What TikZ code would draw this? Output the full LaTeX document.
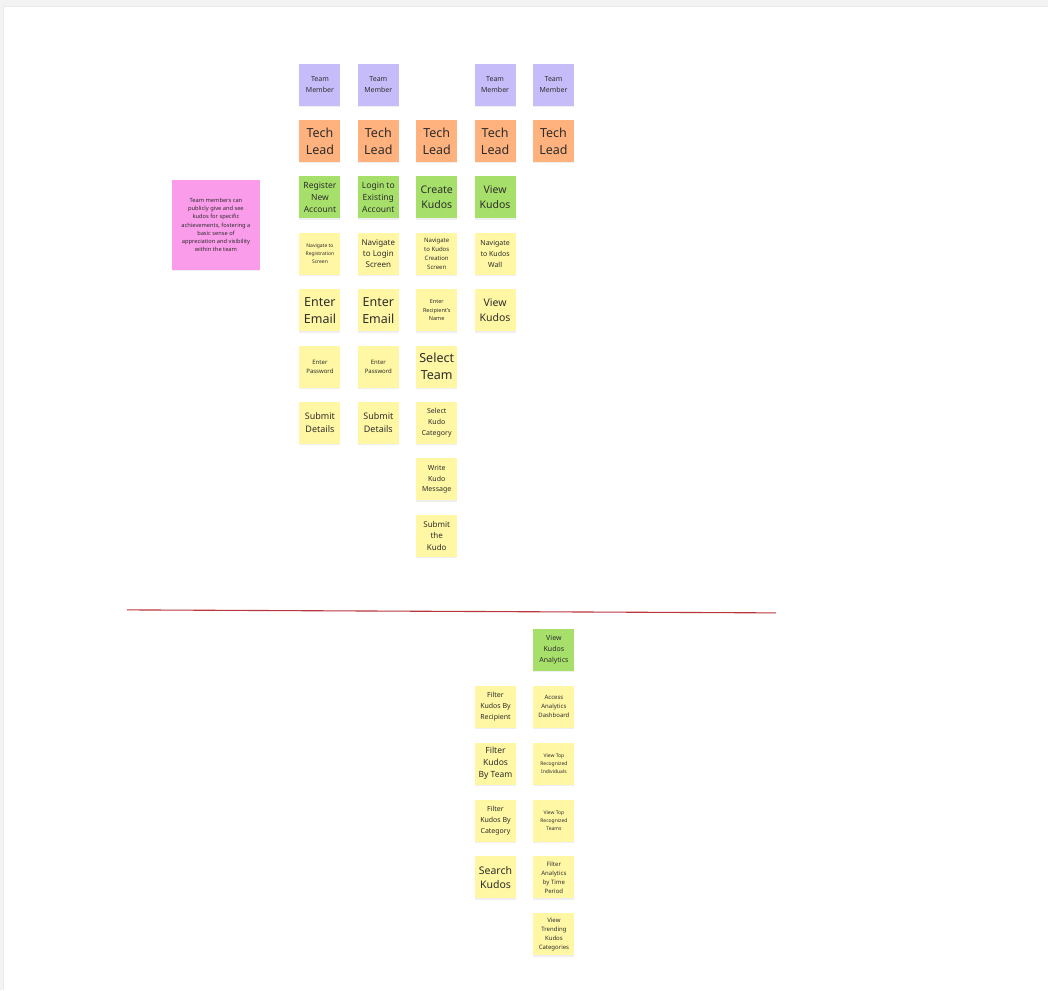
\documentclass[tikz,border=0pt]{standalone}
\usepackage{fontspec}
\setmainfont{Noto Sans}
\usepackage{tikz}
\usetikzlibrary{positioning,shadows}
\definecolor{notepurple}{RGB}{198,188,250}
\definecolor{noteorange}{RGB}{255,178,125}
\definecolor{notegreen}{RGB}{166,224,106}
\definecolor{noteyellow}{RGB}{255,247,163}
\definecolor{notepink}{RGB}{251,156,234}
\definecolor{notetext}{RGB}{45,45,45}
\definecolor{canvasgray}{RGB}{243,243,243}
\definecolor{lanered}{RGB}{185,55,60}

\begin{document}
\begin{tikzpicture}[x=1pt,y=1pt,node distance=14pt and 17pt,every node/.style={text=notetext}]
\tikzstyle{note}=[align=center,minimum width=41pt,minimum height=42pt,inner sep=1pt,drop shadow={shadow xshift=0pt,shadow yshift=-1.5pt,opacity=0.12}]
\tikzstyle{member}=[note,fill=notepurple]
\tikzstyle{lead}=[note,fill=noteorange]
\tikzstyle{story}=[note,fill=notegreen]
\tikzstyle{task}=[note,fill=noteyellow]
\tikzstyle{s5}=[font=\fontsize{5}{8.3}\selectfont]
\tikzstyle{s55}=[font=\fontsize{5.5}{8.7}\selectfont]
\tikzstyle{s6}=[font=\fontsize{6}{9}\selectfont]
\tikzstyle{s65}=[font=\fontsize{7}{11}\selectfont]
\tikzstyle{s7}=[font=\fontsize{7}{10.8}\selectfont]
\tikzstyle{s8}=[font=\fontsize{8}{11.3}\selectfont]
\tikzstyle{s85}=[font=\fontsize{8.5}{12}\selectfont]
\tikzstyle{s9}=[font=\fontsize{9}{13}\selectfont]
\tikzstyle{s10}=[font=\fontsize{10.5}{14.5}\selectfont]
\tikzstyle{s12}=[font=\fontsize{12.5}{17}\selectfont]
% canvas
\fill[canvasgray] (0,0) rectangle (1048,-990);
\fill[white] (3,-6) rectangle (1048,-990);
\draw[black!8] (3,-990) -- (3,-6) -- (1048,-6);
\useasboundingbox (0,0) rectangle (1048,-990);
% goal
\node[note,fill=notepink,minimum width=88pt,minimum height=90pt,font=\fontsize{5.7}{8.1}\selectfont] (goal) at (216,-225) {Team members can\\publicly give and see\\kudos for specific\\achievements, fostering a\\basic sense of\\appreciation and visibility\\within the team};
% roles
\node[lead,s12] (l1) at (320,-141) {Tech\\Lead};
\node[lead,s12,right=of l1] (l2) {Tech\\Lead};
\node[lead,s12,right=of l2] (l3) {Tech\\Lead};
\node[lead,s12,right=of l3] (l4) {Tech\\Lead};
\node[lead,s12,right=of l4] (l5) {Tech\\Lead};
\node[member,s65,above=of l1] (m1) {Team\\Member};
\node[member,s65,above=of l2] (m2) {Team\\Member};
\node[member,s65,above=of l4] (m4) {Team\\Member};
\node[member,s65,above=of l5] (m5) {Team\\Member};
% stories
\node[story,s85,below=of l1] (g1) {Register\\New\\Account};
\node[story,s85,below=of l2] (g2) {Login to\\Existing\\Account};
\node[story,s10,below=of l3] (g3) {Create\\Kudos};
\node[story,s10,below=of l4] (g4) {View\\Kudos};
% register
\node[task,s5,below=of g1] (n1) {Navigate to\\Registration\\Screen};
\node[task,s12,below=of n1] (e1) {Enter\\Email};
\node[task,s6,below=of e1] (p1) {Enter\\Password};
\node[task,s9,below=of p1] (d1) {Submit\\Details};
% login
\node[task,s8,below=of g2] (n2) {Navigate\\to Login\\Screen};
\node[task,s12,below=of n2] (e2) {Enter\\Email};
\node[task,s6,below=of e2] (p2) {Enter\\Password};
\node[task,s9,below=of p2] (d2) {Submit\\Details};
% create
\node[task,s6,below=of g3] (n3) {Navigate\\to Kudos\\Creation\\Screen};
\node[task,s55,below=of n3] (r3) {Enter\\Recipient's\\Name};
\node[task,s12,below=of r3] (st3) {Select\\Team};
\node[task,s7,below=of st3] (c3) {Select\\Kudo\\Category};
\node[task,s7,below=of c3] (w3) {Write\\Kudo\\Message};
\node[task,s8,below=of w3] (k3) {Submit\\the\\Kudo};
% view
\node[task,s7,below=of g4] (n4) {Navigate\\to Kudos\\Wall};
\node[task,s10,below=of n4] (v4) {View\\Kudos};
% release line
\coordinate (sepL) at (127,-610);
\coordinate (sepR) at (776,-613);
\draw[lanered,line width=1.1pt] (sepL) -- (sepR);
% analytics
\begin{scope}[node distance=14.5pt and 17pt]
\node[story,s7] (va) at (554,-650) {View\\Kudos\\Analytics};
\node[task,s6,below=of va] (ad) {Access\\Analytics\\Dashboard};
\node[task,s5,below=of ad] (ti) {View Top\\Recognized\\Individuals};
\node[task,s5,below=of ti] (tt) {View Top\\Recognized\\Teams};
\node[task,s6,below=of tt] (tp) {Filter\\Analytics\\by Time\\Period};
\node[task,s6,below=of tp] (tc) {View\\Trending\\Kudos\\Categories};
\node[task,s7,left=of ad] (fr) {Filter\\Kudos By\\Recipient};
\node[task,s85,left=of ti] (ft) {Filter\\Kudos\\By Team};
\node[task,s7,left=of tt] (fc) {Filter\\Kudos By\\Category};
\node[task,s10,left=of tp] (sk) {Search\\Kudos};
\end{scope}
\end{tikzpicture}
\end{document}
